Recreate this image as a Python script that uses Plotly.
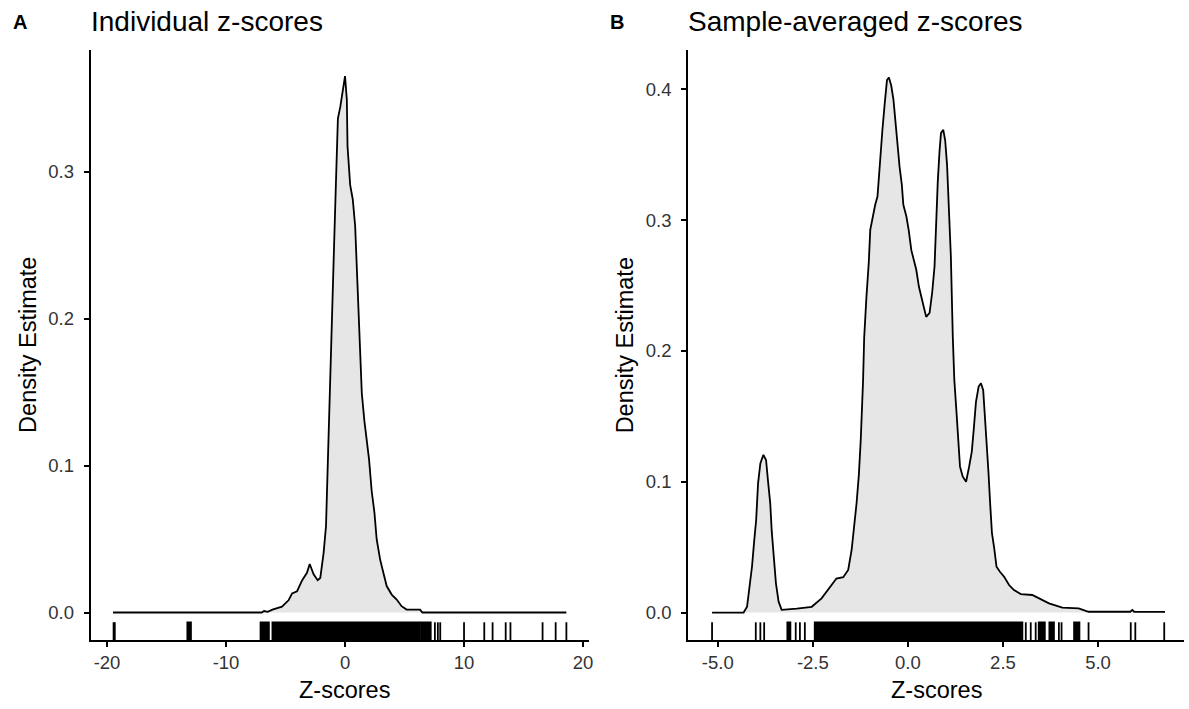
import plotly.graph_objects as go

W, H = 1189, 709

# ---------------- Panel A: individual z-scores ----------------
a_x = [-19.5, -7.0, -6.8, -6.5, -6.1, -5.3, -4.73, -4.45, -4.03, -3.6, -3.2, -2.97, -2.64,
       -2.3, -2.08, -1.8, -1.6, -1.46, -1.32, -1.15, -0.96, -0.77, -0.6, -0.4, -0.2, 0.0,
       0.15, 0.21, 0.43, 0.65, 0.85, 0.99, 1.2, 1.41, 1.63, 1.83, 2.02, 2.24, 2.47, 2.66,
       2.95, 3.22, 3.5, 3.92, 4.34, 4.75, 5.17, 6.3, 6.5, 18.6]
a_y = [0.0, 0.0, 0.001, 0.0005, 0.002, 0.004, 0.0085, 0.013, 0.0145, 0.022, 0.027, 0.033,
       0.026, 0.022, 0.0235, 0.0406, 0.0587, 0.102, 0.143, 0.187, 0.239, 0.291, 0.336,
       0.344, 0.354, 0.365, 0.349, 0.317, 0.291, 0.281, 0.263, 0.234, 0.19, 0.149, 0.130,
       0.118, 0.104, 0.0825, 0.068, 0.0497, 0.036, 0.027, 0.018, 0.0122, 0.0088, 0.0043,
       0.002, 0.002, 0.0, 0.0]
a_rug_ticks = [-19.45, -19.35, 7.55, 7.8, 8.0, 10.0, 11.7, 12.4, 13.5, 13.9, 16.6, 17.7, 18.6]
a_rug_spans = [[-13.25, -12.95], [-7.1, -6.4], [-6.1, 6.3], [6.42, 7.2]]
a_xticks = [-20, -10, 0, 10, 20]
a_yticks = [0.0, 0.1, 0.2, 0.3]

# ---------------- Panel B: sample-averaged z-scores ----------------
b_x = [-5.15, -4.32, -4.23, -4.16, -4.10, -4.04, -3.99, -3.94, -3.88, -3.80, -3.73, -3.68,
       -3.62, -3.58, -3.52, -3.47, -3.40, -3.32, -2.92, -2.53, -2.27, -2.05, -1.88, -1.70,
       -1.57, -1.48, -1.42, -1.35, -1.29, -1.24, -1.18, -1.15, -1.09, -1.03, -0.99, -0.92,
       -0.86, -0.80, -0.76, -0.73, -0.67, -0.61, -0.55, -0.50, -0.44, -0.38, -0.32, -0.26,
       -0.22, -0.16, -0.12, -0.04, 0.02, 0.09, 0.15, 0.22, 0.29, 0.39, 0.48, 0.57, 0.64,
       0.70, 0.74, 0.785, 0.83, 0.87, 0.93, 0.98, 1.03, 1.07, 1.13, 1.18, 1.22, 1.28, 1.33,
       1.37, 1.44, 1.53, 1.61, 1.68, 1.73, 1.79, 1.86, 1.92, 1.98, 2.03, 2.08, 2.12, 2.16,
       2.21, 2.27, 2.33, 2.42, 2.53, 2.66, 2.79, 2.97, 3.27, 3.45, 3.71, 4.06, 4.49, 4.75,
       5.85, 5.9, 5.95, 6.76]
b_y = [0.0, 0.0, 0.0044, 0.0197, 0.035, 0.0554, 0.0707, 0.0988, 0.114, 0.1205, 0.1166,
       0.101, 0.0835, 0.0618, 0.0427, 0.0223, 0.0083, 0.002, 0.003, 0.0044, 0.0108, 0.0197,
       0.026, 0.027, 0.0325, 0.0478, 0.063, 0.0835, 0.105, 0.132, 0.1765, 0.21, 0.2415,
       0.267, 0.2925, 0.304, 0.3117, 0.318, 0.3346, 0.351, 0.369, 0.389, 0.407, 0.409,
       0.403, 0.392, 0.3715, 0.356, 0.341, 0.327, 0.3117, 0.3027, 0.2925, 0.277, 0.2696,
       0.262, 0.249, 0.2365, 0.226, 0.229, 0.245, 0.2645, 0.30, 0.329, 0.352, 0.3665, 0.369,
       0.361, 0.342, 0.310, 0.272, 0.211, 0.178, 0.152, 0.132, 0.1115, 0.104, 0.100, 0.1115,
       0.123, 0.1396, 0.161, 0.1727, 0.1753, 0.170, 0.1485, 0.1294, 0.1065, 0.0847, 0.0606,
       0.049, 0.035, 0.0312, 0.0274, 0.021, 0.0172, 0.0141, 0.0134, 0.0108, 0.007, 0.0037,
       0.0032, 0.0006, 0.0006, 0.002, 0.0006, 0.0005]
b_rug_ticks = [-5.15, -4.0, -3.88, -3.78, -2.95, -2.84, -2.71, 3.1, 3.23, 3.36, 3.97, 4.04,
               4.75, 5.86, 5.98, 6.74]
b_rug_spans = [[-3.17, -3.09], [-2.45, 3.01], [3.44, 3.6], [3.72, 3.84], [4.37, 4.51]]
b_xticks = [-5.0, -2.5, 0.0, 2.5, 5.0]
b_yticks = [0.0, 0.1, 0.2, 0.3, 0.4]

titles = ["Individual z-scores", "Sample-averaged z-scores"]
tags = ["A", "B"]
x_title = "Z-scores"
y_title = "Density Estimate"

# ---------------- layout geometry (pixels) ----------------
TOP, BOTTOM = 50, 640
A_L, A_R = 91, 591
B_L, B_R = 691, 1189
a_xrange = [-21.38, 20.46]
a_yrange = [-0.0187, 0.3827]
b_xrange = [-5.78, 7.26]
b_yrange = [-0.021, 0.430]
XTITLE_CX = [346, 940]

FONT = "Liberation Sans, Arial, sans-serif"
FILL = "#e6e6e6"
LW = 1.8

fig = go.Figure()


def add_panel(xs, ys, ticks, spans, yr, xa, ya):
    fig.add_trace(go.Scatter(x=xs, y=ys, mode="lines", fill="tozeroy", fillcolor=FILL,
                             line=dict(color="black", width=LW), xaxis=xa, yaxis=ya,
                             hoverinfo="skip", showlegend=False))
    y0 = yr[0]
    y1 = yr[0] + 0.03 * (yr[1] - yr[0])
    rx, ry = [], []
    for v in ticks:
        rx += [v, v, None]
        ry += [y0, y1, None]
    fig.add_trace(go.Scatter(x=rx, y=ry, mode="lines", line=dict(color="black", width=LW),
                             xaxis=xa, yaxis=ya, hoverinfo="skip", showlegend=False))
    sx, sy = [], []
    for a, b in spans:
        sx += [a, b, b, a, a, None]
        sy += [y0, y0, y1, y1, y0, None]
    fig.add_trace(go.Scatter(x=sx, y=sy, mode="lines", fill="toself", fillcolor="black",
                             line=dict(color="black", width=LW), xaxis=xa, yaxis=ya,
                             hoverinfo="skip", showlegend=False))


add_panel(a_x, a_y, a_rug_ticks, a_rug_spans, a_yrange, "x", "y")
add_panel(b_x, b_y, b_rug_ticks, b_rug_spans, b_yrange, "x2", "y2")


def fx(px):
    return px / W


def fy(py):
    return 1 - py / H


tickfont = dict(family=FONT, size=18.5, color="#333333")
axis_common = dict(showgrid=False, zeroline=False, showline=True, linecolor="black",
                   linewidth=LW, ticks="outside", ticklen=5, tickwidth=LW, tickcolor="black",
                   tickfont=tickfont)

fig.update_layout(
    width=W, height=H, margin=dict(l=0, r=0, t=0, b=0),
    paper_bgcolor="white", plot_bgcolor="white", showlegend=False,
    xaxis=dict(domain=[fx(A_L), fx(A_R)], range=a_xrange, anchor="y",
               tickvals=a_xticks, ticktext=[str(v) for v in a_xticks], **axis_common),
    yaxis=dict(domain=[fy(BOTTOM), fy(TOP)], range=a_yrange, anchor="x",
               tickvals=a_yticks, ticktext=[f"{v:.1f}" for v in a_yticks],
               ticklabelstandoff=6, **axis_common),
    xaxis2=dict(domain=[fx(B_L), fx(B_R)], range=b_xrange, anchor="y2",
                tickvals=b_xticks, ticktext=[f"{v:.1f}" for v in b_xticks], **axis_common),
    yaxis2=dict(domain=[fy(BOTTOM), fy(TOP)], range=b_yrange, anchor="x2",
                tickvals=b_yticks, ticktext=[f"{v:.1f}" for v in b_yticks],
                ticklabelstandoff=6, **axis_common),
)

ann = []
for i, L in enumerate([A_L, B_L]):
    ann.append(dict(text=f"<b>{tags[i]}</b>", x=fx(L - 80), y=fy(22), xref="paper", yref="paper",
                    xanchor="left", yanchor="middle", showarrow=False,
                    font=dict(family=FONT, size=20, color="black")))
    ann.append(dict(text=titles[i], x=fx(L - 2), y=fy(22), xref="paper", yref="paper",
                    xanchor="left", yanchor="middle", showarrow=False,
                    font=dict(family=FONT, size=28, color="black")))
    ann.append(dict(text=x_title, x=fx(XTITLE_CX[i]), y=fy(690), xref="paper",
                    yref="paper", xanchor="center", yanchor="middle", showarrow=False,
                    font=dict(family=FONT, size=23.5, color="black")))
    ann.append(dict(text=y_title, x=fx(L - 63), y=fy(345), xref="paper", yref="paper",
                    xanchor="center", yanchor="middle", showarrow=False, textangle=-90,
                    font=dict(family=FONT, size=23.5, color="black")))
fig.update_layout(annotations=ann)

fig.write_html("out.html")
